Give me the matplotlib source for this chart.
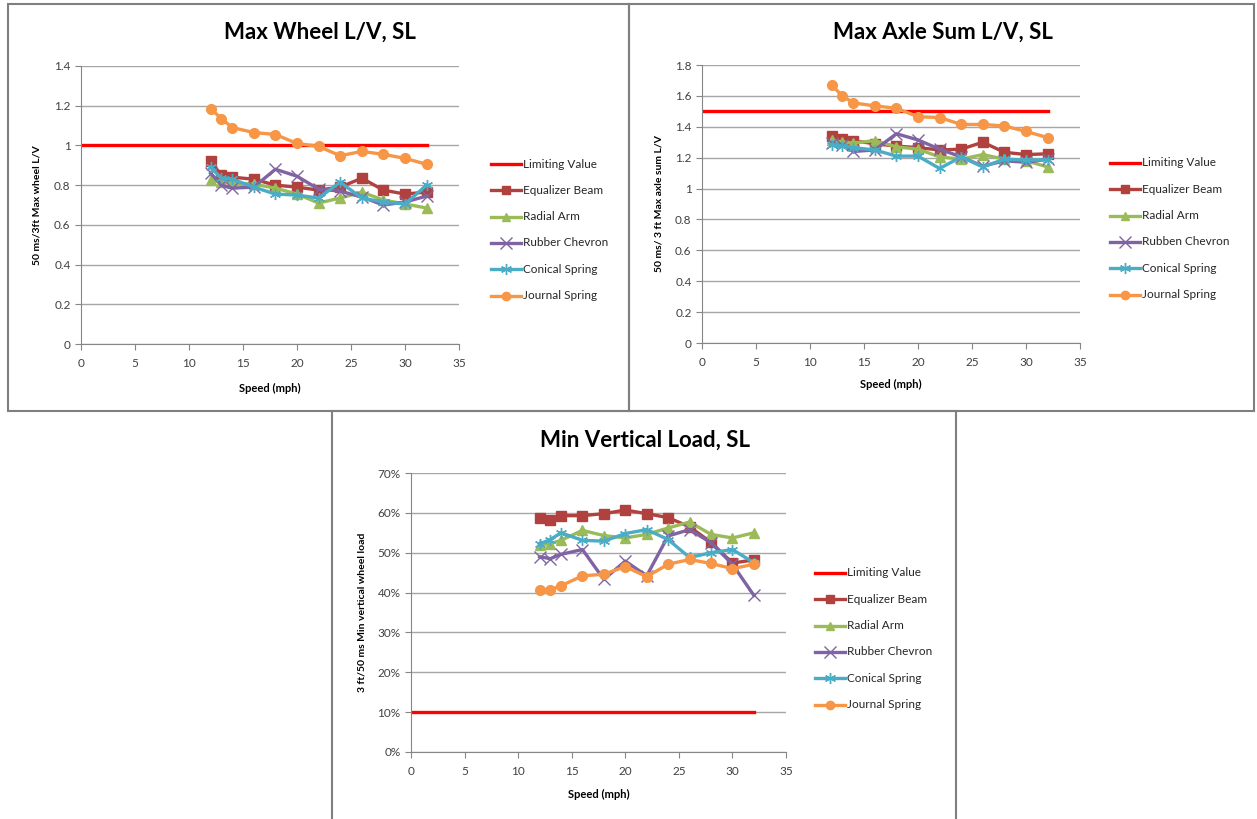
import numpy as np
import matplotlib
matplotlib.use("Agg")
import matplotlib.pyplot as plt
from matplotlib.patches import Rectangle
from matplotlib.ticker import FuncFormatter

plt.rcParams['font.family'] = ['Lato', 'DejaVu Sans']

speed = [12, 13, 14, 16, 18, 20, 22, 24, 26, 28, 30, 32]
limit_x = [0, 32]

series_names = ["Equalizer Beam", "Radial Arm", "Rubber Chevron", "Conical Spring", "Journal Spring"]

# Max Wheel L/V
wheel_limit = 1.0
wheel_equalizer = [0.92, 0.85, 0.84, 0.83, 0.80, 0.79, 0.775, 0.79, 0.835, 0.775, 0.755, 0.765]
wheel_radial = [0.825, 0.815, 0.81, 0.805, 0.785, 0.755, 0.71, 0.735, 0.765, 0.725, 0.705, 0.685]
wheel_chevron = [0.86, 0.80, 0.785, 0.79, 0.88, 0.845, 0.78, 0.77, 0.74, 0.70, 0.715, 0.745]
wheel_conical = [0.89, 0.835, 0.83, 0.79, 0.755, 0.75, 0.735, 0.815, 0.735, 0.715, 0.705, 0.80]
wheel_journal = [1.185, 1.135, 1.09, 1.065, 1.055, 1.01, 0.995, 0.948, 0.97, 0.955, 0.935, 0.905]

# Max Axle Sum L/V
axle_limit = 1.5
axle_equalizer = [1.34, 1.32, 1.31, 1.29, 1.275, 1.265, 1.25, 1.255, 1.30, 1.235, 1.22, 1.225]
axle_radial = [1.315, 1.30, 1.295, 1.31, 1.27, 1.255, 1.205, 1.19, 1.22, 1.19, 1.18, 1.14]
axle_chevron = [1.295, 1.28, 1.24, 1.25, 1.355, 1.315, 1.255, 1.205, 1.145, 1.18, 1.17, 1.19]
axle_conical = [1.285, 1.275, 1.265, 1.25, 1.21, 1.21, 1.13, 1.205, 1.14, 1.19, 1.185, 1.185]
axle_journal = [1.67, 1.60, 1.555, 1.535, 1.52, 1.465, 1.46, 1.415, 1.415, 1.405, 1.37, 1.33]

# Min Vertical Load
load_limit = 0.10
load_equalizer = [0.586, 0.583, 0.593, 0.593, 0.598, 0.607, 0.598, 0.588, 0.565, 0.526, 0.474, 0.482]
load_radial = [0.520, 0.523, 0.531, 0.556, 0.543, 0.537, 0.546, 0.562, 0.577, 0.546, 0.537, 0.550]
load_chevron = [0.490, 0.485, 0.496, 0.508, 0.433, 0.479, 0.442, 0.542, 0.558, 0.525, 0.471, 0.393]
load_conical = [0.522, 0.533, 0.550, 0.531, 0.529, 0.548, 0.558, 0.533, 0.488, 0.500, 0.508, 0.475]
load_journal = [0.407, 0.407, 0.417, 0.442, 0.446, 0.465, 0.440, 0.471, 0.483, 0.473, 0.460, 0.471]

colors = ["#B0413E", "#9BBB59", "#8064A2", "#4BACC6", "#F79646"]
markers = ["s", "^", "x", (6, 2, 0), "o"]

W, H = 1257, 819
fig = plt.figure(figsize=(W / 100, H / 100), dpi=100)


def px_axes(x0, y0, x1, y1):
    # pixel box (top-left origin) -> figure axes
    return fig.add_axes([x0 / W, 1 - y1 / H, (x1 - x0) / W, (y1 - y0) / H])


def border(x0, y0, x1, y1):
    fig.patches.append(Rectangle((x0 / W, 1 - y1 / H), (x1 - x0) / W, (y1 - y0) / H,
                                 transform=fig.transFigure, fill=False,
                                 edgecolor="#7F7F7F", linewidth=1.5, zorder=0))


def panel(box, title, title_xy, ylabel, ylabel_x, xlabel_y, ymax, ystep, fmt,
          limit, data, legend_x, legend_y0, names):
    ax = px_axes(*box)
    ax.plot(limit_x, [limit, limit], color="#FF0000", linewidth=2.4, zorder=2)
    for vals, c, m in zip(data, colors, markers):
        if m in ("x", (6, 2, 0)):
            ax.plot(speed, vals, color=c, linewidth=2.4, marker=m, markersize=8,
                    markeredgewidth=1.0, zorder=3)
        else:
            ax.plot(speed, vals, color=c, linewidth=2.4, marker=m, markersize=7,
                    zorder=3)
    ax.set_xlim(0, 35)
    ax.set_ylim(0, ymax)
    ax.set_xticks(np.arange(0, 36, 5))
    ax.set_yticks(np.arange(0, ymax + ystep / 2, ystep))
    ax.yaxis.set_major_formatter(FuncFormatter(fmt))
    ax.grid(axis="y", color="#A6A6A6", linewidth=1.0)
    ax.set_axisbelow(True)
    for s in ("top", "right"):
        ax.spines[s].set_visible(False)
    for s in ("left", "bottom"):
        ax.spines[s].set_color("#868686")
    ax.tick_params(colors="#868686", labelcolor="#404040", labelsize=8.5, length=4)
    ax.tick_params(axis="x", pad=6)

    fig.text(title_xy[0] / W, 1 - title_xy[1] / H, title, ha="center", va="center",
             fontsize=16, fontweight="bold", color="black")
    cy = (box[1] + box[3]) / 2
    fig.text(ylabel_x / W, 1 - cy / H, ylabel, rotation=90, ha="center", va="center",
             fontsize=7.5, fontweight="bold", color="black")
    cx = (box[0] + box[2]) / 2
    fig.text(cx / W, 1 - xlabel_y / H, "Speed (mph)", ha="center", va="center",
             fontsize=8, fontweight="bold", color="black")

    # legend drawn by hand
    lax = fig.add_axes([0, 0, 1, 1], facecolor="none")
    lax.set_xlim(0, W)
    lax.set_ylim(H, 0)
    lax.axis("off")
    entries = [("Limiting Value", "#FF0000", None)] + list(zip(names, colors, markers))
    for i, (name, c, m) in enumerate(entries):
        y = legend_y0 + i * 26.3
        lax.plot([legend_x, legend_x + 30], [y, y], color=c, linewidth=2.4)
        if m is not None:
            ms = 8 if m in ("x", (6, 2, 0)) else 6
            lax.plot([legend_x + 15], [y], color=c, marker=m, markersize=ms,
                     markeredgewidth=1.0 if ms == 8 else 1.0)
        lax.text(legend_x + 32, y, name, ha="left", va="center", fontsize=8.5,
                 color="#262626")
    return ax


dec = lambda v, p: f"{v:.1f}".rstrip("0").rstrip(".") if v else "0"
pct = lambda v, p: f"{v * 100:.0f}%"

border(8, 4, 629, 411)
border(629, 4, 1254, 411)
border(332, 411, 956, 830)

panel((81, 66, 459, 344), "Max Wheel L/V, SL", (320, 32), "50 ms/3ft Max wheel L/V", 37, 388,
      1.4, 0.2, dec, wheel_limit,
      [wheel_equalizer, wheel_radial, wheel_chevron, wheel_conical, wheel_journal],
      491, 164, series_names)

panel((702, 65, 1080, 343), "Max Axle Sum L/V, SL", (943, 32), "50 ms/ 3 ft Max axle sum L/V", 659, 384,
      1.8, 0.2, dec, axle_limit,
      [axle_equalizer, axle_radial, axle_chevron, axle_conical, axle_journal],
      1110, 163, ["Equalizer Beam", "Radial Arm", "Rubben Chevron", "Conical Spring", "Journal Spring"])

panel((411, 473, 786, 752), "Min Vertical Load, SL", (645, 440), "3 ft/50 ms Min vertical wheel load", 362, 794,
      0.7, 0.1, pct, load_limit,
      [load_equalizer, load_radial, load_chevron, load_conical, load_journal],
      815, 573, series_names)

fig.savefig("out.png", dpi=100)
